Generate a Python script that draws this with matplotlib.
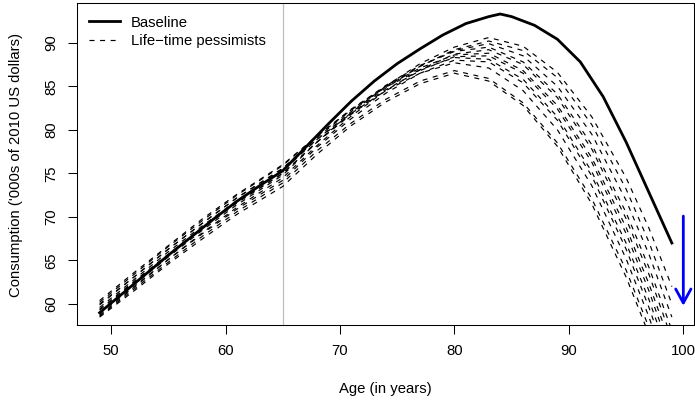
import matplotlib
matplotlib.use("Agg")
import matplotlib.pyplot as plt

plt.rcParams['font.family'] = ['Liberation Sans', 'DejaVu Sans']
plt.rcParams['lines.scale_dashes'] = False

# baseline consumption path
base_age = [49, 51, 53, 55, 57, 59, 61, 63, 65, 67, 69, 71, 73, 75, 77, 79,
            81, 83, 84, 85, 87, 89, 91, 93, 95, 97, 99]
baseline = [59.0, 61.2, 63.4, 65.6, 67.7, 69.8, 71.8, 73.6, 75.3, 78.0, 80.7,
            83.3, 85.6, 87.6, 89.3, 90.9, 92.2, 93.0, 93.3, 93.0, 92.0, 90.4,
            87.8, 83.8, 78.6, 72.8, 67.0]

# life-time pessimists
pess_age = [49, 52, 55, 58, 61, 65, 68, 71, 74, 77, 80, 83, 86, 89, 92, 95, 97, 99]
pessimists = [
    [59.0, 62.2, 65.4, 68.5, 71.4, 74.8, 78.6, 82.0, 85.0, 87.6, 89.5, 90.6, 89.6, 86.6, 81.5, 74.5, 68.7, 62.0],
    [59.3, 62.5, 65.7, 68.7, 71.6, 75.0, 78.6, 81.9, 84.8, 87.3, 89.2, 90.2, 89.1, 86.0, 80.6, 73.2, 67.1, 60.0],
    [59.6, 62.8, 66.0, 69.0, 71.9, 75.3, 78.9, 82.1, 85.0, 87.3, 89.1, 89.9, 88.5, 85.0, 79.5, 71.9, 65.7, 58.5],
    [59.9, 63.1, 66.3, 69.3, 72.2, 75.6, 79.1, 82.3, 85.1, 87.4, 89.0, 89.5, 87.8, 84.1, 78.3, 70.5, 64.2, 57.0],
    [58.7, 61.9, 65.1, 68.2, 71.1, 74.5, 78.2, 81.6, 84.5, 86.9, 88.7, 89.2, 87.5, 83.7, 77.8, 69.8, 63.4, 56.0],
    [60.2, 63.4, 66.6, 69.6, 72.5, 75.9, 79.3, 82.4, 85.0, 87.1, 88.6, 88.8, 86.8, 82.8, 76.8, 68.8, 62.3, 55.0],
    [59.4, 62.6, 65.7, 68.8, 71.7, 75.0, 78.6, 81.8, 84.6, 86.8, 88.4, 88.5, 86.5, 82.4, 76.3, 68.1, 61.5, 54.0],
    [60.4, 63.6, 66.7, 69.8, 72.6, 76.0, 79.3, 82.3, 84.9, 86.9, 88.3, 88.1, 85.8, 81.5, 75.2, 67.0, 60.5, 53.0],
    [58.9, 62.0, 65.1, 68.1, 70.9, 74.2, 78.0, 81.3, 84.2, 86.5, 88.0, 87.8, 85.4, 81.1, 74.7, 66.3, 59.6, 52.0],
    [60.0, 63.1, 66.3, 69.3, 72.2, 75.5, 78.9, 81.9, 84.5, 86.5, 87.7, 87.1, 84.5, 80.0, 73.6, 65.2, 58.5, 51.0],
    [58.6, 61.7, 64.8, 67.8, 70.6, 73.9, 77.6, 80.8, 83.5, 85.6, 86.8, 85.9, 83.1, 78.5, 72.1, 63.9, 57.3, 50.0],
    [58.5, 61.5, 64.6, 67.5, 70.3, 73.5, 77.2, 80.5, 83.2, 85.3, 86.5, 85.6, 82.8, 78.1, 71.5, 63.1, 56.5, 49.0],
]

retire_age = 65
arrow_age = 100
arrow_from = 70.1
arrow_to = 59.8

xticks = [50, 60, 70, 80, 90, 100]
yticks = [60, 65, 70, 75, 80, 85, 90]

fs = 10.7
fig = plt.figure(figsize=(6.95, 4.04), dpi=100)
ax = fig.add_axes([0.1104, 0.1955, 0.8886, 0.797])

ax.axvline(retire_age, color='#BEBEBE', lw=0.9, zorder=1)

for i, p in enumerate(pessimists):
    ax.plot(pess_age, p, color='black', lw=0.85, dashes=(3.6, 4.0),
            label='Life\u2212time pessimists' if i == 0 else None, zorder=2)
ax.plot(base_age, baseline, color='black', lw=2.0, label='Baseline', zorder=3)

ax.annotate('', xy=(arrow_age, arrow_to), xytext=(arrow_age, arrow_from),
            arrowprops=dict(arrowstyle='->,head_length=1.0,head_width=0.55',
                            color='#0000FF', lw=2.0, shrinkA=0, shrinkB=0,
                            mutation_scale=10), zorder=4)

ax.set_xlim(47.0, 100.96)
ax.set_ylim(57.59, 94.56)
ax.set_xticks(xticks)
ax.set_yticks(yticks)
ax.tick_params(length=6.5, width=0.75, labelsize=fs, colors='black')
ax.tick_params(axis='x', pad=7.5)
ax.tick_params(axis='y', pad=6.5)
for lbl in ax.get_yticklabels():
    lbl.set_rotation(90)
    lbl.set_va('center')
for s in ax.spines.values():
    s.set_linewidth(0.75)

handles, labels = ax.get_legend_handles_labels()
leg = ax.legend(handles[::-1], labels[::-1], loc='upper left',
                bbox_to_anchor=(0.0, 1.0), frameon=False, fontsize=fs,
                handlelength=2.03, handletextpad=0.74, labelspacing=0.3,
                borderaxespad=0.0, borderpad=0.85)

fig.text(16.5 / 695, 1 - 165 / 404, "Consumption ('000s of 2010 US dollars)",
         rotation=90, ha='center', va='center', fontsize=fs)
fig.text(385.5 / 695, 1 - 389 / 404, 'Age (in years)',
         ha='center', va='center', fontsize=fs)

fig.savefig('out.png', dpi=100)
